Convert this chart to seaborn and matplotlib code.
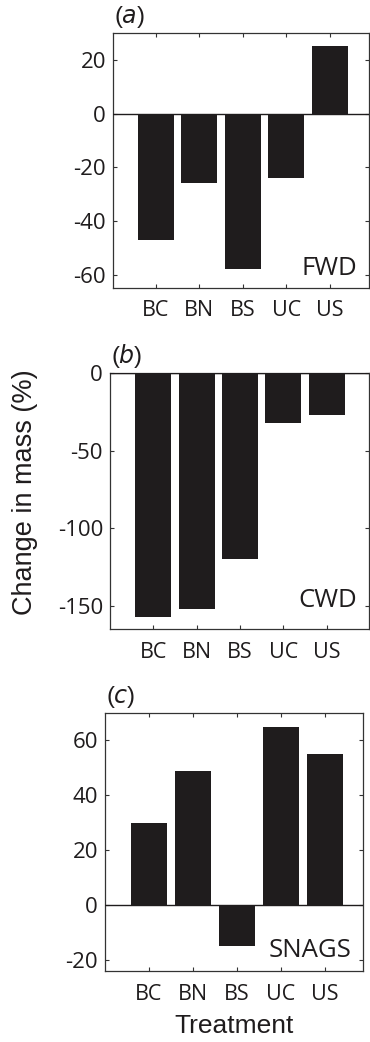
import matplotlib
matplotlib.use("Agg")
import matplotlib.pyplot as plt
import seaborn as sns
import pandas as pd

treatments = ["BC", "BN", "BS", "UC", "US"]
fwd = [-47, -26, -58, -24, 25]
cwd = [-157, -152, -120, -32, -27]
snags = [30, 49, -15, 65, 55]

panel_letters = ["a", "b", "c"]
panel_names = ["FWD", "CWD", "SNAGS"]
ylims = [(-65, 30), (-165, 0), (-24, 70)]
yticks = [[-60, -40, -20, 0, 20], [-150, -100, -50, 0], [-20, 0, 20, 40, 60]]

sns.set_style("ticks")
plt.rcParams["font.family"] = ["Open Sans", "DejaVu Sans"]

W, H = 370, 1042
fig = plt.figure(figsize=(W / 100, H / 100), dpi=100)

# axes boxes in pixels: left, top, right, bottom
boxes = [(113, 33, 369, 288), (110, 373, 369, 629), (105, 713, 363, 971)]
xlims = [(-0.98, 4.9), (-1.0, 4.98), (-1.0, 4.86)]
name_y = [0.05, 0.085, 0.055]

ink = "#1f1c1d"
series = [fwd, cwd, snags]
for i, vals in enumerate(series):
    l, t, r, b = boxes[i]
    ax = fig.add_axes([l / W, 1 - b / H, (r - l) / W, (b - t) / H])
    df = pd.DataFrame({"Treatment": treatments, "Change": vals})
    sns.barplot(data=df, x="Treatment", y="Change", color=ink, saturation=1,
                width=0.83, ax=ax, edgecolor=ink, linewidth=0)
    ax.axhline(0, color=ink, lw=1.0, zorder=3)
    ax.set_xlim(*xlims[i])
    ax.set_ylim(*ylims[i])
    ax.set_yticks(yticks[i])
    ax.set_yticklabels([str(v) for v in yticks[i]])
    ax.set_xlabel("")
    ax.set_ylabel("")
    for s in ax.spines.values():
        s.set_visible(True)
        s.set_linewidth(0.9)
        s.set_color("#333333")
    ax.tick_params(direction="in", top=True, right=True, length=3, width=0.8,
                   colors="#333333")
    ax.tick_params(axis="y", labelsize=16, pad=5, labelcolor=ink)
    ax.tick_params(axis="x", labelsize=15.5, pad=9, labelcolor=ink)
    ax.text(0.955, name_y[i], panel_names[i], transform=ax.transAxes,
            ha="right", va="baseline", fontsize=18.5, color=ink)
    ax.text(0.005, 1.012, r"($\it{" + panel_letters[i] + r"}$)",
            transform=ax.transAxes, ha="left", va="bottom", fontsize=17,
            color=ink, family="Liberation Sans")
    if i == 2:
        ax.set_xlabel("Treatment", fontsize=19, family="Liberation Sans",
                      color=ink, labelpad=7)

fig.text(25 / W, 1 - 492 / H, "Change in mass (%)", rotation=90, ha="center",
         va="center", fontsize=19.5, family="Liberation Sans", color=ink)

fig.savefig("out.png", dpi=100)
